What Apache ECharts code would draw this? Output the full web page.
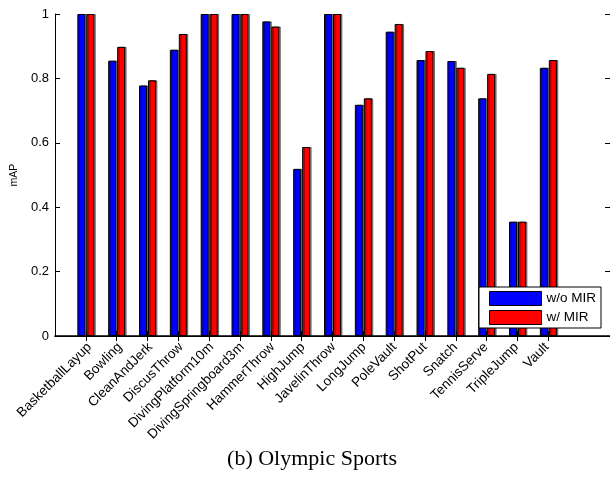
<!DOCTYPE html>
<html>
<head>
<meta charset="utf-8">
<script src="https://cdn.jsdelivr.net/npm/echarts@6/dist/echarts.min.js"></script>
<style>
  html, body { margin: 0; padding: 0; background: #fff; }
  #chart { width: 610px; height: 485px; }
</style>
</head>
<body>
<div id="chart"></div>
<script>
const categories = ['BasketballLayup', 'Bowling', 'CleanAndJerk', 'DiscusThrow', 'DivingPlatform10m',
  'DivingSpringboard3m', 'HammerThrow', 'HighJump', 'JavelinThrow', 'LongJump', 'PoleVault',
  'ShotPut', 'Snatch', 'TennisServe', 'TripleJump', 'Vault'];
const withoutMIR = [1, 0.855, 0.778, 0.889, 1, 1, 0.977, 0.519, 1, 0.718, 0.945, 0.857, 0.854, 0.738, 0.355, 0.833];
const withMIR = [1, 0.898, 0.794, 0.938, 1, 1, 0.961, 0.587, 1, 0.738, 0.969, 0.885, 0.833, 0.814, 0.355, 0.857];
const yTicks = [0, 0.2, 0.4, 0.6, 0.8, 1];
const seriesNames = ['w/o MIR', 'w/ MIR'];
const caption = '(b) Olympic Sports';
const yName = 'mAP';

// axis slots: one empty slot before, two after (matches the reference's x extent)
const axisData = [''].concat(categories, ['', '']);
const pad = arr => [null].concat(arr, [null, null]);

const font = 'Liberation Sans, Arial, Helvetica, sans-serif';
const chart = echarts.init(document.getElementById('chart'), null, { renderer: 'canvas' });

const barStyle = color => ({
  color: color,
  borderColor: '#000',
  borderWidth: 1,
  shadowColor: 'rgba(0,0,0,0.45)',
  shadowOffsetX: 1.5,
  shadowOffsetY: 0,
  shadowBlur: 0
});

const tickFilter = (i, v) => v !== '';

chart.setOption({
  animation: false,
  backgroundColor: '#fff',
  grid: [
    { left: 55, top: 14, width: 557, bottom: 149, containLabel: false },
    // label-only grid, nudged right so the rotated labels end where the reference's do
    { left: 59, top: 14, width: 557, bottom: 149, containLabel: false }
  ],
  legend: {
    orient: 'vertical',
    left: 479,
    top: 287,
    backgroundColor: '#fff',
    borderColor: '#000',
    borderWidth: 1,
    borderRadius: 0,
    padding: [4, 5, 3, 10],
    itemWidth: 52,
    itemHeight: 14,
    itemGap: 4,
    icon: 'rect',
    itemStyle: { borderColor: '#000', borderWidth: 1, shadowBlur: 0, shadowOffsetX: 0, shadowColor: 'transparent' },
    textStyle: { fontFamily: font, fontSize: 13.5, color: '#000', padding: [0, 0, 0, 0] },
    data: seriesNames
  },
  graphic: [{
    type: 'text',
    x: 312,
    y: 459,
    style: { text: caption, font: '22px "Liberation Serif", "Times New Roman", serif', fill: '#000', align: 'center', verticalAlign: 'middle' }
  }],
  xAxis: [{
    type: 'category',
    gridIndex: 0,
    data: axisData,
    boundaryGap: false,
    position: 'bottom',
    axisLine: { lineStyle: { color: '#000', width: 1.5 } },
    axisTick: { inside: true, length: 5, interval: tickFilter, lineStyle: { color: '#000' } },
    axisLabel: { show: false },
    splitLine: { show: false }
  }, {
    type: 'category',
    gridIndex: 0,
    data: axisData,
    boundaryGap: false,
    position: 'top',
    axisLine: { lineStyle: { color: '#000', width: 1 } },
    axisTick: { inside: true, length: 5, interval: tickFilter, lineStyle: { color: '#000' } },
    axisLabel: { show: false },
    splitLine: { show: false }
  }, {
    type: 'category',
    gridIndex: 1,
    data: axisData,
    boundaryGap: false,
    position: 'bottom',
    axisLine: { show: false },
    axisTick: { show: false },
    axisLabel: { interval: 0, rotate: 45, margin: 9, color: '#000', fontSize: 13.5, fontFamily: font },
    splitLine: { show: false }
  }],
  yAxis: [{
    type: 'value',
    gridIndex: 0,
    min: yTicks[0],
    max: yTicks[yTicks.length - 1],
    interval: yTicks[1] - yTicks[0],
    position: 'left',
    name: yName,
    nameLocation: 'middle',
    nameGap: 33,
    nameTextStyle: { fontFamily: font, fontSize: 10.5, color: '#000' },
    axisLine: { show: true, lineStyle: { color: '#000', width: 1 } },
    axisTick: { show: true, inside: true, length: 5, lineStyle: { color: '#000' } },
    axisLabel: { color: '#000', fontSize: 13, fontFamily: font, margin: 6, formatter: v => String(v) },
    splitLine: { show: false }
  }, {
    type: 'value',
    gridIndex: 0,
    min: yTicks[0],
    max: yTicks[yTicks.length - 1],
    interval: yTicks[1] - yTicks[0],
    position: 'right',
    axisLine: { show: true, lineStyle: { color: '#000', width: 1 } },
    axisTick: { show: true, inside: true, length: 5, lineStyle: { color: '#000' } },
    axisLabel: { show: false },
    splitLine: { show: false }
  }, {
    type: 'value',
    gridIndex: 1,
    min: yTicks[0],
    max: yTicks[yTicks.length - 1],
    show: false
  }],
  series: [{
    name: seriesNames[0],
    type: 'bar',
    xAxisIndex: 0,
    yAxisIndex: 0,
    data: pad(withoutMIR),
    barWidth: 8,
    barGap: '12%',
    itemStyle: barStyle('#0000ff')
  }, {
    name: seriesNames[1],
    type: 'bar',
    xAxisIndex: 0,
    yAxisIndex: 0,
    data: pad(withMIR),
    barWidth: 8,
    barGap: '12%',
    itemStyle: barStyle('#ff0000')
  }]
});
</script>
</body>
</html>
